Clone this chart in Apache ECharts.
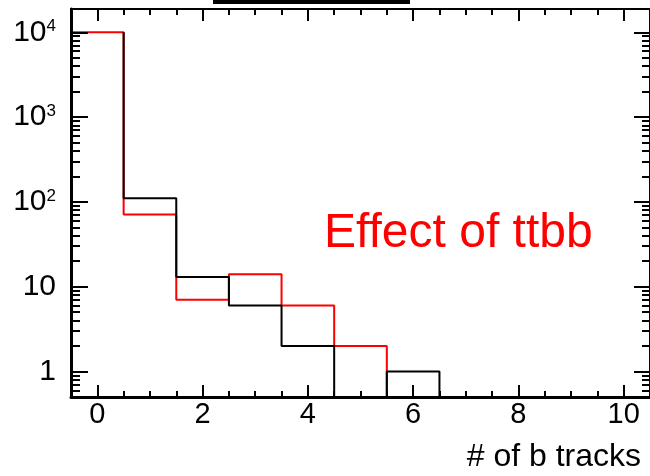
<!DOCTYPE html>
<html>
<head>
<meta charset="utf-8">
<script src="https://cdn.jsdelivr.net/npm/echarts@6/dist/echarts.min.js"></script>
<style>
html,body{margin:0;padding:0;background:#fff;}
#chart{width:650px;height:476px;}
</style>
</head>
<body>
<div id="chart"></div>
<script>
// ---- data ----
const binEdges = [-0.5, 0.5, 1.5, 2.5, 3.5, 4.5, 5.5, 6.5, 7.5, 8.5, 9.5, 10.5];
const blackCounts = [10000, 110, 13, 6, 2, 0, 1, 0, 0, 0, 0];
const redCounts   = [10000, 71, 7, 14, 6, 2, 0, 0, 0, 0, 0];
const xMajorTicks = [0, 2, 4, 6, 8, 10];
const xMinorTicks = [0.5, 1, 1.5, 2.5, 3, 3.5, 4.5, 5, 5.5, 6.5, 7, 7.5, 8.5, 9, 9.5];
const yMajorTicks = [1, 10, 100, 1000, 10000];
const yMinorTicks = [0.6, 0.7, 0.8, 0.9, 2, 3, 4, 5, 6, 7, 8, 9,
  20, 30, 40, 50, 60, 70, 80, 90, 200, 300, 400, 500, 600, 700, 800, 900,
  2000, 3000, 4000, 5000, 6000, 7000, 8000, 9000];
const xTitle = '# of b tracks';
const annotation = 'Effect of ttbb';

const xMin = -0.5, xMax = 10.5, yMin = 0.5, yMax = 18800;
const FONT = '"Liberation Sans", Arial, sans-serif';

// step outline of a histogram; empty bins sit on the axis floor
function stepPoints(counts, firstEdge) {
  const v = c => (c > 0 ? c : yMin);
  const pts = [[binEdges[firstEdge], v(counts[0])]];
  for (let i = 1; i < counts.length; i++) pts.push([binEdges[i], v(counts[i])]);
  pts.push([binEdges[counts.length], v(counts[counts.length - 1])]);
  return pts;
}

const chart = echarts.init(document.getElementById('chart'), null, {renderer: 'canvas'});

function xAx(pos, ticks, len, showLine, showLabels, lineW) {
  return {
    type: 'value', position: pos, min: xMin, max: xMax, z: 5,
    axisLine: {show: showLine, onZero: false, lineStyle: {color: '#000', width: lineW}},
    axisTick: {show: true, inside: true, length: len, customValues: ticks, lineStyle: {color: '#000', width: 2}},
    axisLabel: showLabels ? {show: true, customValues: ticks, margin: 3, fontSize: 29, color: '#000', fontFamily: FONT} : {show: false},
    splitLine: {show: false}
  };
}
function yAx(pos, ticks, len, showLine, showLabels, lineW) {
  return {
    type: 'log', logBase: 10, position: pos, min: yMin, max: yMax, z: 5,
    axisLine: {show: showLine, onZero: false, lineStyle: {color: '#000', width: lineW}},
    axisTick: {show: true, inside: true, length: len, customValues: ticks, lineStyle: {color: '#000', width: 2}},
    axisLabel: showLabels ? {
      show: true, customValues: ticks, margin: 15, color: '#000',
      formatter: function (v) {
        const e = Math.round(Math.log10(v));
        if (e <= 1) return '{n|' + Math.round(v) + '}';
        return '{n|10}{s|' + e + '}';
      },
      rich: {
        n: {fontSize: 30, fontFamily: FONT, color: '#000'},
        s: {fontSize: 17, fontFamily: FONT, color: '#000', verticalAlign: 'top', padding: [1, 0, 0, 0]}
      }
    } : {show: false},
    splitLine: {show: false}
  };
}

const option = {
  animation: false,
  backgroundColor: '#fff',
  grid: {left: 71, right: -2, top: 9, bottom: 79, containLabel: false},
  xAxis: [
    xAx('bottom', xMajorTicks, 12, true, true, 3),
    xAx('bottom', xMinorTicks, 6, false, false, 3),
    xAx('top', xMajorTicks, 12, true, false, 2),
    xAx('top', xMinorTicks, 6, false, false, 2)
  ],
  yAxis: [
    yAx('left', yMajorTicks, 17, true, true, 3),
    yAx('left', yMinorTicks, 9, false, false, 3),
    yAx('right', yMajorTicks, 16, true, false, 2),
    yAx('right', yMinorTicks, 8, false, false, 2)
  ],
  series: [
    {
      type: 'line', step: 'end', xAxisIndex: 0, yAxisIndex: 0, z: 2,
      data: stepPoints(redCounts, 0), showSymbol: false, symbol: 'none',
      lineStyle: {color: '#ff0000', width: 2}
    },
    {
      // black first-bin top lies under the red one, so it starts at that bin's right edge
      type: 'line', step: 'end', xAxisIndex: 0, yAxisIndex: 0, z: 3,
      data: stepPoints(blackCounts, 1), showSymbol: false, symbol: 'none',
      lineStyle: {color: '#000', width: 2}
    }
  ],
  graphic: [
    {type: 'rect', shape: {x: 213, y: 0, width: 197, height: 4}, style: {fill: '#000'}},
    {type: 'text', style: {text: annotation, x: 324, y: 234, fill: '#ff0000', font: '48px ' + FONT, align: 'left', verticalAlign: 'middle'}},
    {type: 'text', style: {text: xTitle, x: 641, y: 457, fill: '#000', font: '32px ' + FONT, align: 'right', verticalAlign: 'middle'}}
  ]
};
chart.setOption(option);
</script>
</body>
</html>
